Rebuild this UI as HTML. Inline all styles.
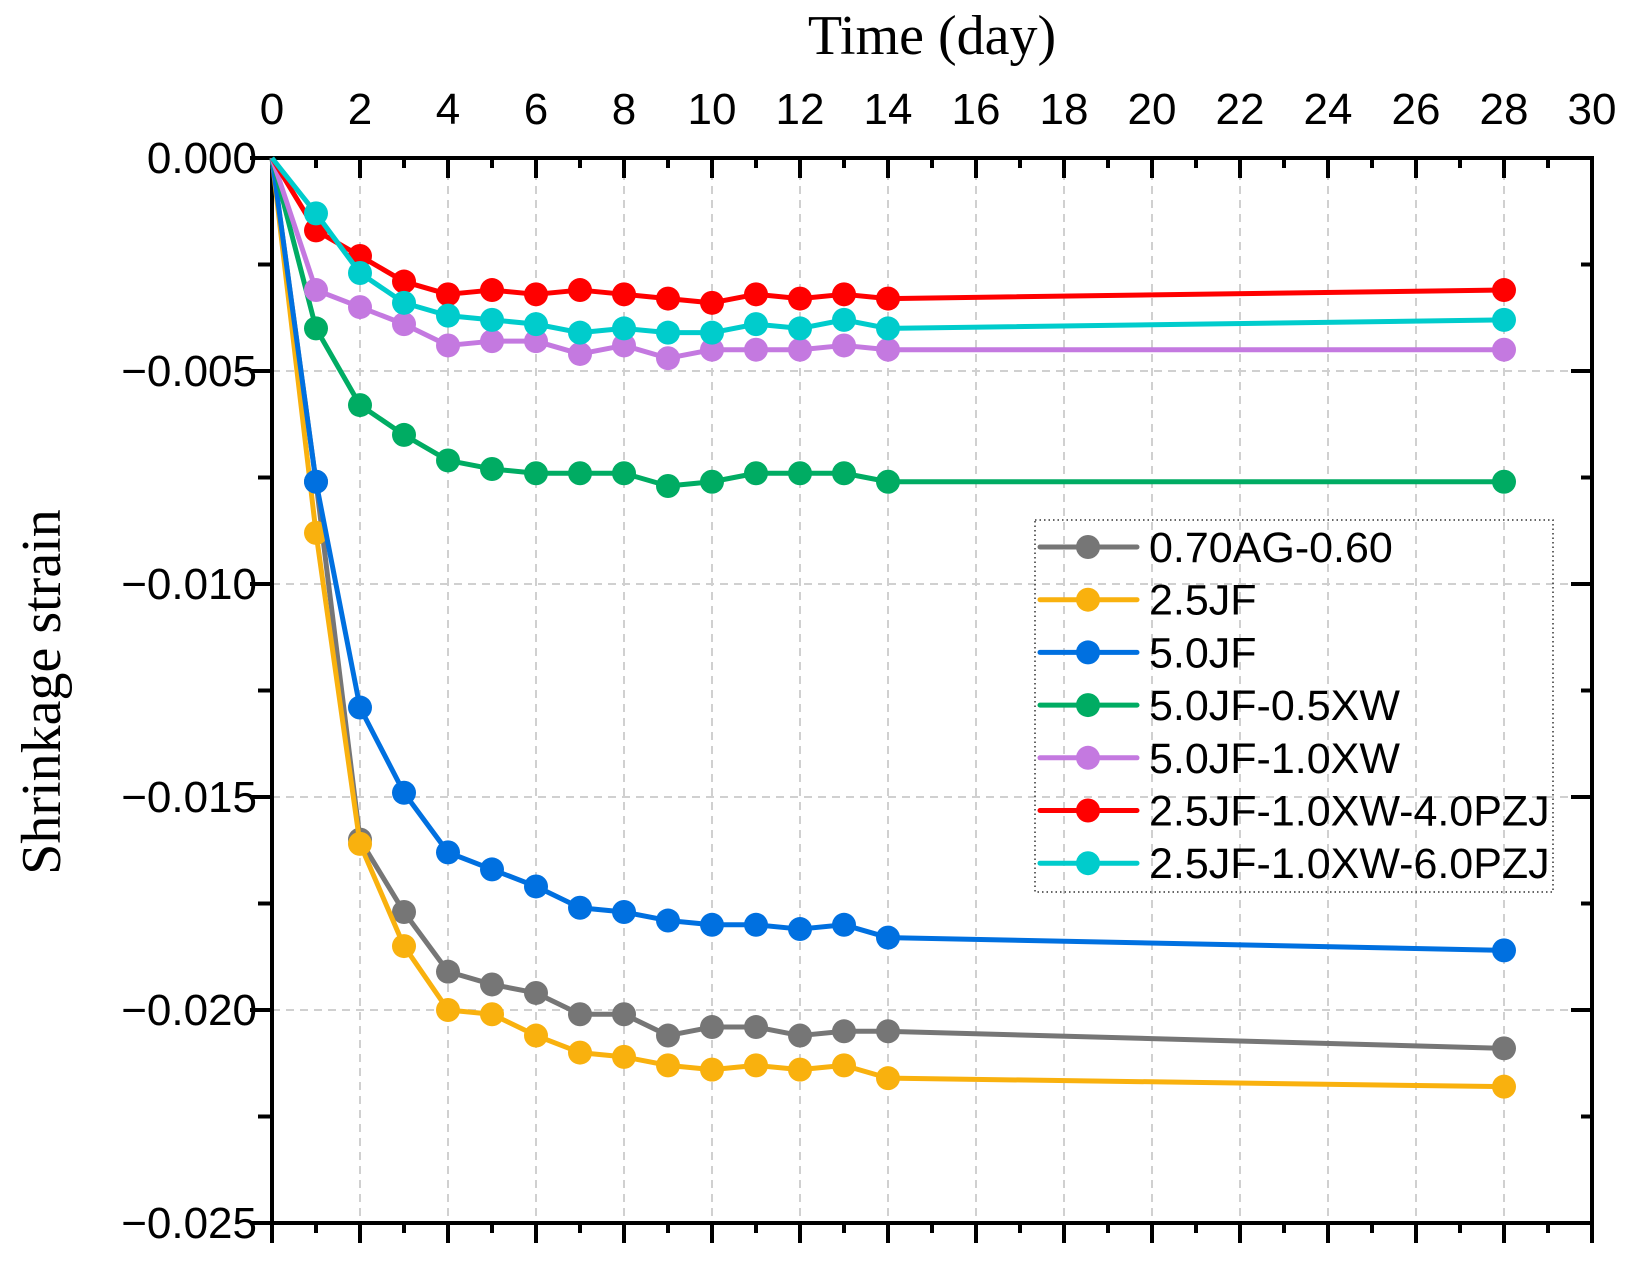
<!DOCTYPE html>
<html><head><meta charset="utf-8"><style>
html,body{margin:0;padding:0;background:#fff;}
svg{display:block;}
text{font-family:"Liberation Sans",sans-serif;}
</style></head><body>
<svg id="chart" width="1625" height="1262" viewBox="0 0 1625 1262" xmlns="http://www.w3.org/2000/svg">
<g id="grid"></g>
<g id="axes"></g>
<g id="series"></g>
<g id="legend"></g>
<text x="932" y="54" text-anchor="middle" font-size="56" style="font-family:'Liberation Serif',serif">Time (day)</text>
<text x="0" y="0" text-anchor="middle" font-size="56" transform="translate(60,692) rotate(-90)" style="font-family:'Liberation Serif',serif">Shrinkage strain</text>
</svg>
<script>
const days = [0,1,2,3,4,5,6,7,8,9,10,11,12,13,14,28];
const seriesNames = ["0.70AG-0.60","2.5JF","5.0JF","5.0JF-0.5XW","5.0JF-1.0XW","2.5JF-1.0XW-4.0PZJ","2.5JF-1.0XW-6.0PZJ"];
const seriesColors = ["#767676","#F9B10E","#0070E0","#00AC63","#C479E0","#FF0000","#00CCCC"];
const sAG = [0,-0.0076,-0.0160,-0.0177,-0.0191,-0.0194,-0.0196,-0.0201,-0.0201,-0.0206,-0.0204,-0.0204,-0.0206,-0.0205,-0.0205,-0.0209];
const s25JF = [0,-0.0088,-0.0161,-0.0185,-0.0200,-0.0201,-0.0206,-0.0210,-0.0211,-0.0213,-0.0214,-0.0213,-0.0214,-0.0213,-0.0216,-0.0218];
const s50JF = [0,-0.0076,-0.0129,-0.0149,-0.0163,-0.0167,-0.0171,-0.0176,-0.0177,-0.0179,-0.0180,-0.0180,-0.0181,-0.0180,-0.0183,-0.0186];
const s05XW = [0,-0.0040,-0.0058,-0.0065,-0.0071,-0.0073,-0.0074,-0.0074,-0.0074,-0.0077,-0.0076,-0.0074,-0.0074,-0.0074,-0.0076,-0.0076];
const s10XW = [0,-0.0031,-0.0035,-0.0039,-0.0044,-0.0043,-0.0043,-0.0046,-0.0044,-0.0047,-0.0045,-0.0045,-0.0045,-0.0044,-0.0045,-0.0045];
const s40PZJ = [0,-0.0017,-0.0023,-0.0029,-0.0032,-0.0031,-0.0032,-0.0031,-0.0032,-0.0033,-0.0034,-0.0032,-0.0033,-0.0032,-0.0033,-0.0031];
const s60PZJ = [0,-0.0013,-0.0027,-0.0034,-0.0037,-0.0038,-0.0039,-0.0041,-0.0040,-0.0041,-0.0041,-0.0039,-0.0040,-0.0038,-0.0040,-0.0038];
const xTicks = [0,2,4,6,8,10,12,14,16,18,20,22,24,26,28,30];
const yTicks = [0,-0.005,-0.010,-0.015,-0.020,-0.025];
const yTickLabels = ["0.000","\u22120.005","\u22120.010","\u22120.015","\u22120.020","\u22120.025"];

const L=272,R=1592,T=158,B=1223;
const X0=0,X1=30,Y0=0,Y1=-0.025;
function xs(v){return L+(v-X0)/(X1-X0)*(R-L);}
function ys(v){return T+(v-Y0)/(Y1-Y0)*(B-T);}
const NS="http://www.w3.org/2000/svg";
function mk(tag,attrs,parent){const e=document.createElementNS(NS,tag);for(const k in attrs)e.setAttribute(k,attrs[k]);parent.appendChild(e);return e;}
const grid=document.getElementById('grid'),axes=document.getElementById('axes'),ser=document.getElementById('series'),leg=document.getElementById('legend');

xTicks.forEach(t=>{
  if(t>0&&t<30){const g=mk('line',{x1:xs(t),x2:xs(t),y1:T,y2:B,stroke:'#d0d0d0','stroke-width':2,'stroke-dasharray':'8,6'},grid);
  
  }
  const lb=mk('text',{x:xs(t),y:124,'text-anchor':'middle','font-size':44},axes);
  lb.textContent=t;
  
  
});
for(let d=1;d<30;d++){
  const maj=d%2===0;
  mk('line',{x1:xs(d),x2:xs(d),y1:T,y2:T+(maj?20:10),stroke:'#000','stroke-width':4},axes);
  mk('line',{x1:xs(d),x2:xs(d),y1:B,y2:B+(maj?20:10),stroke:'#000','stroke-width':4},axes);
}
mk('line',{x1:xs(30),x2:xs(30),y1:B,y2:B+20,stroke:'#000','stroke-width':4},axes);
mk('line',{x1:xs(0),x2:xs(0),y1:B,y2:B+20,stroke:'#000','stroke-width':4},axes);
yTicks.forEach((t,i)=>{
  if(i>0&&i<yTicks.length-1){const g=mk('line',{x1:L,x2:R,y1:ys(t),y2:ys(t),stroke:'#d0d0d0','stroke-width':2,'stroke-dasharray':'8,6'},grid);
  
  }
  mk('line',{x1:L-22,x2:L,y1:ys(t),y2:ys(t),stroke:'#000','stroke-width':4},axes);
  mk('line',{x1:R-21,x2:R,y1:ys(t),y2:ys(t),stroke:'#000','stroke-width':4},axes);
  const lb=mk('text',{x:L-15,y:ys(t)+15,'text-anchor':'end','font-size':44},axes);
  lb.textContent=yTickLabels[i];
  
  
});
for(let i=0;i<yTicks.length-1;i++){
  const m=(yTicks[i]+yTicks[i+1])/2;
  mk('line',{x1:L-14,x2:L,y1:ys(m),y2:ys(m),stroke:'#000','stroke-width':4},axes);
  mk('line',{x1:R-11,x2:R,y1:ys(m),y2:ys(m),stroke:'#000','stroke-width':4},axes);
}
mk('rect',{x:L,y:T,width:R-L,height:B-T,fill:'none',stroke:'#000','stroke-width':4},axes);

const allSeries=[sAG,s25JF,s50JF,s05XW,s10XW,s40PZJ,s60PZJ];
allSeries.forEach((vals,si)=>{
  const g=mk('g',{},ser);
  
  
  const pts=days.map((d,i)=>xs(d)+','+ys(vals[i])).join(' ');
  const pl=mk('polyline',{points:pts,fill:'none',stroke:seriesColors[si],'stroke-width':5,'stroke-linejoin':'round'},g);
  
  
  days.forEach((d,i)=>{ if(i===0)return;
    const c=mk('circle',{cx:xs(d),cy:ys(vals[i]),r:12,fill:seriesColors[si]},g);
    
    
  });
});

const lb=mk('rect',{x:1035,y:520,width:518,height:372,fill:'none',stroke:'#333','stroke-width':1.5,'stroke-dasharray':'1.5,3'},leg);


seriesNames.forEach((n,i)=>{
  const y=547+i*52.7;
  const g=mk('g',{},leg);
  
  
  mk('line',{x1:1040,x2:1137,y1:y,y2:y,stroke:seriesColors[i],'stroke-width':5,'stroke-linecap':'round'},g);
  mk('circle',{cx:1088,cy:y,r:12,fill:seriesColors[i]},g);
  const t=mk('text',{x:1149,y:y+15,'font-size':43},g);
  t.textContent=n;
});
</script>
</body></html>
